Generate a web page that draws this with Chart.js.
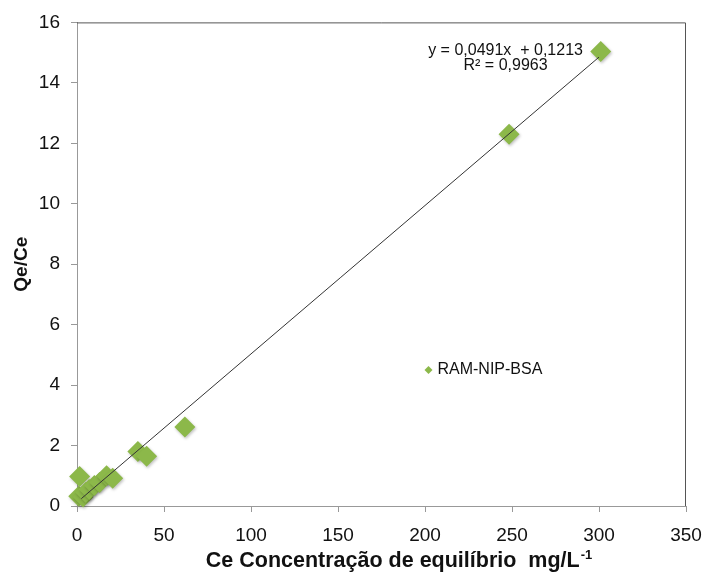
<!DOCTYPE html>
<html>
<head>
<meta charset="utf-8">
<script src="https://cdn.jsdelivr.net/npm/chart.js@4.4.1/dist/chart.umd.min.js"></script>
<style>
  html, body { margin: 0; padding: 0; background: #fff; }
  #wrap { width: 705px; height: 572px; }
</style>
</head>
<body>
<div id="wrap"><canvas id="myChart" width="705" height="572"></canvas></div>
<script>
// Ce (mg/L) and Qe/Ce for RAM-NIP-BSA
const ceValues = [1.0, 1.5, 3.5, 5, 7, 10, 13, 17, 20.5, 35, 40, 62, 248.3, 301];
const qeCeValues = [0.32, 0.98, 0.3, 0.45, 0.55, 0.68, 0.78, 1.0, 0.92, 1.8, 1.65, 2.61, 12.3, 15.04];

// linear fit shown on the chart
const slope = 0.0491;
const intercept = 0.1213;
const fitRange = [2.5, 300];
const fitLabel = ["y = 0,0491x  + 0,1213", "R² = 0,9963"];

const xTicks = [0, 50, 100, 150, 200, 250, 300, 350];
const yTicks = [0, 2, 4, 6, 8, 10, 12, 14, 16];

const xTitle = "Ce Concentração de equilíbrio  mg/L";
const xTitleSup = "-1";

const green = "#8cb84a";
const fontName = "'Liberation Sans', Arial, sans-serif";

const points = ceValues.map((x, i) => ({ x: x, y: qeCeValues[i] }));
const fitPoints = fitRange.map((x) => ({ x: x, y: slope * x + intercept }));

// frame, legend, equation text and the x title with its superscript
const overlay = {
  id: "overlay",
  beforeDatasetsDraw(chart) {
    const { ctx, chartArea: a } = chart;
    ctx.save();
    ctx.strokeStyle = "#555";
    ctx.lineWidth = 1;
    ctx.beginPath();
    ctx.moveTo(a.left, a.top + 0.5);
    ctx.lineTo(a.right - 0.5, a.top + 0.5);
    ctx.lineTo(a.right - 0.5, a.bottom);
    ctx.stroke();
    ctx.restore();
  },
  afterDatasetsDraw(chart) {
    const { ctx, scales } = chart;
    const x = scales.x, y = scales.y;
    ctx.save();
    ctx.fillStyle = "#111";
    ctx.font = "16px " + fontName;
    ctx.textAlign = "center";
    ctx.textBaseline = "middle";
    ctx.fillText(fitLabel[0], x.getPixelForValue(246.3), y.getPixelForValue(15.08));
    ctx.fillText(fitLabel[1], x.getPixelForValue(246.3), y.getPixelForValue(14.58));

    // legend entry
    const lx = x.getPixelForValue(202), ly = y.getPixelForValue(4.5);
    ctx.fillStyle = green;
    ctx.beginPath();
    ctx.moveTo(lx - 4, ly);
    ctx.lineTo(lx, ly - 4);
    ctx.lineTo(lx + 4, ly);
    ctx.lineTo(lx, ly + 4);
    ctx.closePath();
    ctx.fill();
    ctx.fillStyle = "#111";
    ctx.textAlign = "left";
    ctx.fillText("RAM-NIP-BSA", lx + 9, ly);

    // x axis title
    ctx.textBaseline = "alphabetic";
    const mainFont = "bold 21.5px " + fontName;
    const supFont = "bold 13px " + fontName;
    ctx.font = mainFont;
    const wMain = ctx.measureText(xTitle).width;
    ctx.font = supFont;
    const wSup = ctx.measureText(xTitleSup).width;
    const tx = 399 - (wMain + wSup + 1) / 2;
    const ty = 567;
    ctx.font = mainFont;
    ctx.fillText(xTitle, tx, ty);
    ctx.font = supFont;
    ctx.fillText(xTitleSup, tx + wMain + 1, ty - 8);
    ctx.restore();
  },
};

// soft shadow under the diamonds
const markerShadow = {
  id: "markerShadow",
  beforeDatasetDraw(chart, args) {
    if (args.index !== 1) return;
    const c = chart.ctx;
    c.save();
    c.shadowColor = "rgba(0, 0, 0, 0.25)";
    c.shadowBlur = 3;
    c.shadowOffsetX = 1;
    c.shadowOffsetY = 1.5;
  },
  afterDatasetDraw(chart, args) {
    if (args.index !== 1) return;
    chart.ctx.restore();
  },
};

const ctx = document.getElementById("myChart").getContext("2d");
const myChart = new Chart(ctx, {
  type: "scatter",
  data: {
    datasets: [
      {
        type: "line",
        label: "fit",
        data: fitPoints,
        borderColor: "#333",
        borderWidth: 1,
        pointRadius: 0,
        fill: false,
        order: 0,
      },
      {
        label: "RAM-NIP-BSA",
        data: points,
        pointStyle: "rectRot",
        pointRadius: 10.5,
        backgroundColor: green,
        borderColor: green,
        borderWidth: 0,
        clip: false,
        order: 1,
      },
    ],
  },
  options: {
    responsive: false,
    animation: false,
    layout: { padding: { top: 21, right: 19, left: 0, bottom: 0 } },
    plugins: {
      legend: { display: false },
      tooltip: { enabled: false },
    },
    scales: {
      x: {
        type: "linear",
        min: 0,
        max: 350,
        afterBuildTicks: (s) => { s.ticks = xTicks.map((v) => ({ value: v })); },
        afterFit: (s) => {
          s.height = 66;
          s.paddingLeft = 0;
          s.paddingRight = 0;
        },
        grid: { drawOnChartArea: false, tickLength: 6, color: "#999" },
        border: { color: "#999" },
        ticks: { color: "#111", font: { family: fontName, size: 19 }, padding: 12, maxRotation: 0 },
        title: { display: false },
      },
      y: {
        type: "linear",
        min: 0,
        max: 16,
        afterBuildTicks: (s) => { s.ticks = yTicks.map((v) => ({ value: v })); },
        afterFit: (s) => { s.width = 77; },
        grid: { drawOnChartArea: false, tickLength: 6, color: "#999" },
        border: { color: "#999" },
        ticks: { color: "#111", font: { family: fontName, size: 19 }, padding: 11 },
        title: {
          display: true,
          text: "Qe/Ce",
          color: "#111",
          font: { family: fontName, size: 19, weight: "bold" },
          padding: { top: 10, bottom: 0 },
        },
      },
    },
  },
  plugins: [overlay, markerShadow],
});
</script>
</body>
</html>
